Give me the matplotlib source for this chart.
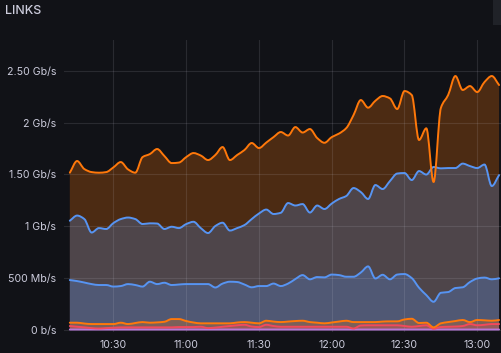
import matplotlib
matplotlib.use("Agg")
import matplotlib.pyplot as plt
import matplotlib.dates as mdates
from matplotlib.patches import Rectangle, PathPatch
from matplotlib.path import Path
import numpy as np
import pandas as pd

plt.rcParams['font.family'] = ['Inter', 'DejaVu Sans']

# sample times (3-minute steps starting 10:12)
times = pd.date_range("2024-01-01 10:12", periods=60, freq="3min")

# per-series rates in Mb/s, stacked bottom -> top
purple = [2] * 60
pink = [34, 27, 21, 14, 10, 14, 17, 21, 21, 21, 21, 21, 21, 21, 21, 24, 24, 24, 27, 14,
        19, 27, 34, 41, 46, 29, 24, 46, 34, 27, 27, 27, 27, 27, 27, 27, 27, 27, 27, 10,
        39, 41, 41, 41, 41, 41, 34, 27, 34, 41, 8, 24, 27, 29, 34, 53, 41, 46, 53, 53]
orange_low = [32, 39, 37, 39, 43, 39, 36, 45, 32, 42, 51, 45, 48, 54, 80, 77, 58, 44, 33, 46,
              41, 33, 26, 27, 26, 37, 36, 39, 43, 45, 50, 55, 58, 45, 39, 33, 41, 50, 58, 62,
              33, 31, 31, 36, 38, 38, 63, 77, 29, 25, 13, 36, 45, 53, 58, 19, 51, 43, 32, 39]
blue_low = [412, 402, 396, 386, 377, 377, 362, 354, 386, 367, 343, 396, 370, 377, 329, 334, 357, 371, 379, 379,
            346, 384, 402, 391, 363, 342, 360, 335, 367, 348, 367, 406, 441, 413, 441, 444, 463, 449, 425, 438,
            479, 538, 421, 452, 406, 452, 439, 393, 341, 267, 247, 295, 290, 319, 316, 387, 401, 413, 400, 403]
blue_high = [573, 633, 613, 498, 550, 541, 614, 647, 643, 637, 604, 564, 585, 519, 563, 545, 580, 602, 541, 493,
             594, 588, 494, 521, 574, 659, 701, 739, 672, 708, 778, 710, 686, 645, 691, 660, 686, 735, 780, 857,
             777, 651, 903, 828, 949, 976, 976, 947, 1127, 1164, 1302, 1202, 1198, 1159, 1195, 1120, 1067, 1092, 901, 997]
orange_top = [464, 527, 483, 584, 535, 550, 538, 551, 465, 448, 647, 669, 720, 705, 615, 633, 647, 664, 701, 705,
              686, 731, 681, 706, 725, 735, 632, 647, 743, 780, 652, 758, 691, 807, 652, 640, 642, 632, 656, 705,
              889, 882, 814, 899, 799, 623, 792, 821, 300, 447, -145, 583, 705, 889, 711, 773, 734, 797, 1063, 870]

series = [purple, pink, orange_low, blue_low, blue_high, orange_top]
colors = ["#B877D9", "#F2495C", "#FF780A", "#5794F2", "#5794F2", "#FF780A"]

y_ticks = [0, 500, 1000, 1500, 2000, 2500]
y_labels = ["0 b/s", "500 Mb/s", "1 Gb/s", "1.50 Gb/s", "2 Gb/s", "2.50 Gb/s"]
x_ticks = ["10:30", "11:00", "11:30", "12:00", "12:30", "13:00"]
title = "LINKS"

BG = "#111217"
TXT = "#ccccdc"


def monotone_path_verts(xs, ys):
    """Bezier vertices/codes of a monotone cubic through the points (smooth line rendering)."""
    n = len(xs)
    h = np.diff(xs)
    d = np.diff(ys) / h
    m = np.zeros(n)
    m[0], m[-1] = d[0], d[-1]
    for i in range(1, n - 1):
        if d[i - 1] * d[i] <= 0:
            m[i] = 0.0
        else:
            w1 = 2 * h[i] + h[i - 1]
            w2 = h[i] + 2 * h[i - 1]
            m[i] = (w1 + w2) / (w1 / d[i - 1] + w2 / d[i])
    verts = [(xs[0], ys[0])]
    codes = [Path.MOVETO]
    for i in range(n - 1):
        verts += [(xs[i] + h[i] / 3, ys[i] + m[i] * h[i] / 3),
                  (xs[i + 1] - h[i] / 3, ys[i + 1] - m[i + 1] * h[i] / 3),
                  (xs[i + 1], ys[i + 1])]
        codes += [Path.CURVE4] * 3
    return verts, codes


fig = plt.figure(figsize=(5.01, 3.53), dpi=100, facecolor=BG)
W, H = 501, 353
ax = fig.add_axes([64 / W, 1 - 331.5 / H, 1 - 64 / W, (331.5 - 40) / H])
ax.set_facecolor(BG)

cum = np.cumsum(np.array(series, dtype=float), axis=0)
xn = mdates.date2num(times.to_pydatetime())

# fills down to zero with low opacity (overlapping), top first
for k in range(len(series) - 1, -1, -1):
    v, c = monotone_path_verts(xn, cum[k])
    v = v + [(xn[-1], 0), (xn[0], 0), (xn[0], cum[k][0])]
    c = c + [Path.LINETO, Path.LINETO, Path.CLOSEPOLY]
    ax.add_patch(PathPatch(Path(v, c), facecolor=colors[k], alpha=0.25, lw=0, zorder=1))

for k in range(len(series)):
    v, c = monotone_path_verts(xn, cum[k])
    ax.add_patch(PathPatch(Path(v, c), facecolor="none", edgecolor=colors[k], lw=1.4,
                           zorder=3, joinstyle="round", capstyle="round"))

ax.xaxis_date()
ax.set_ylim(-17, 2799)
ax.set_yticks(y_ticks)
ax.set_yticklabels(y_labels)

tick_times = mdates.date2num([pd.Timestamp("2024-01-01 " + s).to_pydatetime() for s in x_ticks])
ax.set_xticks(tick_times)
ax.set_xticklabels(x_ticks)
ax.set_xlim(mdates.date2num(pd.Timestamp("2024-01-01 10:09:36").to_pydatetime()),
            mdates.date2num(pd.Timestamp("2024-01-01 13:09:48").to_pydatetime()))

ax.grid(True, color=TXT, alpha=0.13, lw=0.8, zorder=2)
ax.set_axisbelow(False)
for s in ax.spines.values():
    s.set_visible(False)
ax.tick_params(axis="both", length=0, colors=TXT, labelsize=7.6)
ax.tick_params(axis="y", pad=5.5)
ax.tick_params(axis="x", pad=6)
for lab in ax.get_xticklabels() + ax.get_yticklabels():
    lab.set_color(TXT)

fig.text(5 / W, 1 - 11.5 / H, title, color=TXT, fontsize=9, fontweight="medium",
         va="center", ha="left")
fig.patches.append(Rectangle((493 / W, 1 - 25 / H), 8 / W, 25 / H, transform=fig.transFigure,
                             facecolor="#202228", edgecolor="none"))

fig.savefig("out.png", dpi=100, facecolor=BG)
